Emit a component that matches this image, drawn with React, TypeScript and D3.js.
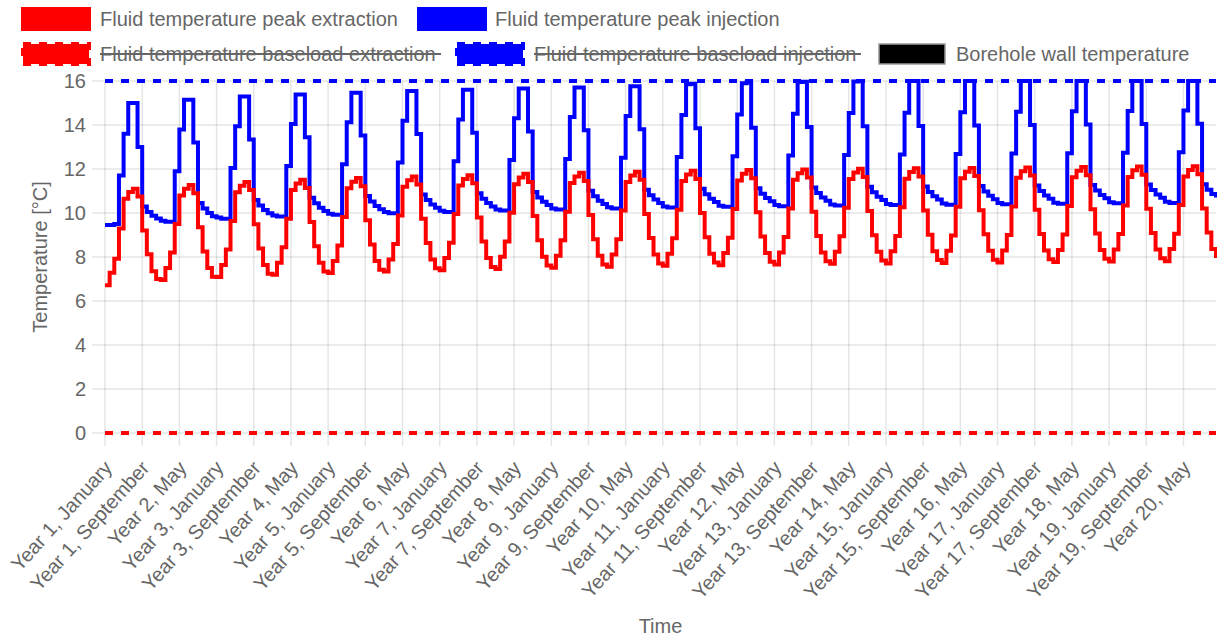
import React from 'react';
import * as d3 from 'd3';

// x labels: 20 years x 12 months
const MONTHS = ['January', 'February', 'March', 'April', 'May', 'June', 'July', 'August', 'September', 'October', 'November', 'December'];
const YEARS = d3.range(1, 21);
const TIME_LABELS = YEARS.flatMap(y => MONTHS.map(m => `Year ${y}, ${m}`));

const Y_TICKS = [0, 2, 4, 6, 8, 10, 12, 14, 16];

// monthly values, one row per year
const EXTRACTION_PEAK = [
  6.72, 7.28, 7.92, 9.30, 10.65, 10.95, 11.10, 10.75, 9.20, 8.12, 7.35, 7.00,
  6.95, 7.50, 8.20, 9.50, 10.80, 11.10, 11.27, 10.90, 9.35, 8.25, 7.50, 7.10,
  7.09, 7.64, 8.34, 9.64, 10.94, 11.24, 11.41, 11.04, 9.49, 8.39, 7.64, 7.24,
  7.19, 7.74, 8.44, 9.74, 11.04, 11.34, 11.51, 11.14, 9.59, 8.49, 7.74, 7.34,
  7.27, 7.82, 8.52, 9.82, 11.12, 11.42, 11.59, 11.22, 9.67, 8.57, 7.82, 7.42,
  7.34, 7.89, 8.59, 9.89, 11.19, 11.49, 11.66, 11.29, 9.74, 8.64, 7.89, 7.49,
  7.40, 7.95, 8.65, 9.95, 11.25, 11.55, 11.72, 11.35, 9.80, 8.70, 7.95, 7.55,
  7.46, 8.01, 8.71, 10.01, 11.31, 11.61, 11.78, 11.41, 9.86, 8.76, 8.01, 7.61,
  7.51, 8.06, 8.76, 10.06, 11.36, 11.66, 11.83, 11.46, 9.91, 8.81, 8.06, 7.66,
  7.56, 8.11, 8.81, 10.11, 11.41, 11.71, 11.88, 11.51, 9.96, 8.86, 8.11, 7.71,
  7.60, 8.15, 8.85, 10.15, 11.45, 11.75, 11.92, 11.55, 10.00, 8.90, 8.15, 7.75,
  7.63, 8.18, 8.88, 10.18, 11.48, 11.78, 11.95, 11.58, 10.03, 8.93, 8.18, 7.78,
  7.66, 8.21, 8.91, 10.21, 11.51, 11.81, 11.98, 11.61, 10.06, 8.96, 8.21, 7.81,
  7.69, 8.24, 8.94, 10.24, 11.54, 11.84, 12.01, 11.64, 10.09, 8.99, 8.24, 7.84,
  7.71, 8.26, 8.96, 10.26, 11.56, 11.86, 12.03, 11.66, 10.11, 9.01, 8.26, 7.86,
  7.73, 8.28, 8.98, 10.28, 11.58, 11.88, 12.05, 11.68, 10.13, 9.03, 8.28, 7.88,
  7.75, 8.30, 9.00, 10.30, 11.60, 11.90, 12.07, 11.70, 10.15, 9.05, 8.30, 7.90,
  7.77, 8.32, 9.02, 10.32, 11.62, 11.92, 12.09, 11.72, 10.17, 9.07, 8.32, 7.92,
  7.79, 8.34, 9.04, 10.34, 11.64, 11.94, 12.11, 11.74, 10.19, 9.09, 8.34, 7.94,
  7.81, 8.36, 9.06, 10.36, 11.66, 11.96, 12.13, 11.76, 10.21, 9.11, 8.36, 7.96,
];

const INJECTION_PEAK = [
  9.45, 9.45, 9.50, 11.70, 13.60, 15.00, 15.00, 13.00, 10.30, 10.05, 9.88, 9.75,
  9.65, 9.60, 9.60, 11.90, 13.80, 15.15, 15.15, 13.20, 10.45, 10.20, 10.00, 9.85,
  9.79, 9.74, 9.74, 12.04, 13.94, 15.29, 15.29, 13.34, 10.59, 10.34, 10.14, 9.99,
  9.89, 9.84, 9.84, 12.14, 14.04, 15.39, 15.39, 13.44, 10.69, 10.44, 10.24, 10.09,
  9.97, 9.92, 9.92, 12.22, 14.12, 15.47, 15.47, 13.52, 10.77, 10.52, 10.32, 10.17,
  10.04, 9.99, 9.99, 12.29, 14.19, 15.54, 15.54, 13.59, 10.84, 10.59, 10.39, 10.24,
  10.10, 10.05, 10.05, 12.35, 14.25, 15.60, 15.60, 13.65, 10.90, 10.65, 10.45, 10.30,
  10.16, 10.11, 10.11, 12.41, 14.31, 15.66, 15.66, 13.71, 10.96, 10.71, 10.51, 10.36,
  10.21, 10.16, 10.16, 12.46, 14.36, 15.71, 15.71, 13.76, 11.01, 10.76, 10.56, 10.41,
  10.26, 10.21, 10.21, 12.51, 14.41, 15.76, 15.76, 13.81, 11.06, 10.81, 10.61, 10.46,
  10.30, 10.25, 10.25, 12.55, 14.45, 15.85, 15.88, 13.85, 11.10, 10.85, 10.65, 10.50,
  10.33, 10.28, 10.28, 12.58, 14.48, 15.90, 15.93, 13.88, 11.13, 10.88, 10.68, 10.53,
  10.36, 10.31, 10.31, 12.61, 14.51, 15.95, 15.97, 13.91, 11.16, 10.91, 10.71, 10.56,
  10.39, 10.34, 10.34, 12.64, 14.54, 15.98, 16.00, 13.94, 11.19, 10.94, 10.74, 10.59,
  10.41, 10.36, 10.36, 12.66, 14.56, 16.00, 16.00, 13.96, 11.21, 10.96, 10.76, 10.61,
  10.43, 10.38, 10.38, 12.68, 14.58, 16.00, 16.00, 13.98, 11.23, 10.98, 10.78, 10.63,
  10.45, 10.40, 10.40, 12.70, 14.60, 16.00, 16.00, 14.00, 11.25, 11.00, 10.80, 10.65,
  10.47, 10.42, 10.42, 12.72, 14.62, 16.00, 16.00, 14.02, 11.27, 11.02, 10.82, 10.67,
  10.49, 10.44, 10.44, 12.74, 14.64, 16.00, 16.00, 14.04, 11.29, 11.04, 10.84, 10.69,
  10.51, 10.46, 10.46, 12.76, 14.66, 16.00, 16.00, 14.06, 11.31, 11.06, 10.86, 10.71,
];

// baseload limits (flat lines)
const BASELOAD_EXTRACTION = 0;
const BASELOAD_INJECTION = 16;

const LEGEND_ITEMS = [
  { label: 'Fluid temperature peak extraction', color: '#ff0000', dashed: false, hidden: false },
  { label: 'Fluid temperature peak injection', color: '#0000ff', dashed: false, hidden: false },
  { label: 'Fluid temperature baseload extraction', color: '#ff0000', dashed: true, hidden: true },
  { label: 'Fluid temperature baseload injection', color: '#0000ff', dashed: true, hidden: true },
  { label: 'Borehole wall temperature', color: '#000000', dashed: false, hidden: false },
];

const W = 1217;
const H = 637;
const FONT = "'Liberation Sans', Arial, Helvetica, sans-serif";
const GREY = '#666';

const App: React.FC = () => {
  const margin = { top: 81, right: 1, bottom: 204, left: 105 };

  const x = d3.scalePoint<string>()
    .domain(TIME_LABELS)
    .range([margin.left, W - margin.right]);

  const y = d3.scaleLinear()
    .domain([0, 16])
    .range([H - margin.bottom, margin.top]);

  const line = d3.line<number>()
    .x((d, i) => x(TIME_LABELS[i]) as number)
    .y(d => y(d))
    .curve(d3.curveStepAfter);

  const xTicks = TIME_LABELS.filter((_, i) => i % 8 === 0);
  const x0 = x(TIME_LABELS[0]) as number;
  const x1 = x(TIME_LABELS[TIME_LABELS.length - 1]) as number;
  const bottom = y(0);

  // legend layout: two rows, left aligned
  const legendPos = [
    { bx: 23, tx: 100, row: 0 },
    { bx: 419, tx: 495, row: 0 },
    { bx: 23, tx: 100, row: 1 },
    { bx: 457, tx: 534, row: 1 },
    { bx: 879, tx: 956, row: 1 },
  ];
  const legendTextW = [303, 290, 341, 327, 235];

  return (
    <svg width={W} height={H} style={{ position: 'absolute', left: 0, top: 0, background: '#fff' }}
      fontFamily={FONT}>
      {/* legend */}
      {LEGEND_ITEMS.map((item, i) => {
        const p = legendPos[i];
        const cy = 19 + p.row * 35;
        return (
          <g key={item.label}>
            <rect x={p.bx} y={cy - 10} width={66} height={20} fill={item.color}
              stroke={item.color === '#000000' ? '#999' : item.color}
              strokeWidth={item.color === '#000000' ? 1.5 : 4}
              strokeDasharray={item.dashed ? '8 8' : undefined} />
            <text x={p.tx} y={cy} dy="0.35em" fontSize={20} fill={GREY}>{item.label}</text>
            {item.hidden && (
              <line x1={p.tx} x2={p.tx + legendTextW[i]} y1={cy} y2={cy} stroke={GREY} strokeWidth={2} />
            )}
          </g>
        );
      })}

      {/* horizontal grid + y ticks */}
      {Y_TICKS.map(t => (
        <g key={t}>
          <line x1={x0 - 13} x2={x1} y1={y(t)} y2={y(t)} stroke="rgba(0,0,0,0.1)" strokeWidth={1.5} />
          <text x={86} y={y(t)} dy="0.35em" textAnchor="end" fontSize={20} fill={GREY}>{t}</text>
        </g>
      ))}

      {/* vertical grid + x ticks */}
      {xTicks.map(l => {
        const px = x(l) as number;
        return (
          <g key={l}>
            <line x1={px} x2={px} y1={margin.top} y2={bottom + 13} stroke="rgba(0,0,0,0.1)" strokeWidth={1.5} />
            <text transform={`translate(${px + 3},${bottom + 31}) rotate(-48)`} textAnchor="end" dy="0.35em"
              fontSize={20} fill={GREY}>{l}</text>
          </g>
        );
      })}

      {/* axis titles */}
      <text transform={`translate(40,${(margin.top + bottom) / 2}) rotate(-90)`} textAnchor="middle" dy="0.35em"
        fontSize={20} fill={GREY}>Temperature [°C]</text>
      <text x={(x0 + x1) / 2} y={626} dy="0.35em" textAnchor="middle" fontSize={20} fill={GREY}>Time</text>

      {/* series */}
      <line x1={x0} x2={x1} y1={y(BASELOAD_INJECTION)} y2={y(BASELOAD_INJECTION)}
        stroke="#0000ff" strokeWidth={4} strokeDasharray="8 8" />
      <path d={line(INJECTION_PEAK) ?? ''} fill="none" stroke="#0000ff" strokeWidth={4} />
      <path d={line(EXTRACTION_PEAK) ?? ''} fill="none" stroke="#ff0000" strokeWidth={4} />
      <line x1={x0} x2={x1} y1={y(BASELOAD_EXTRACTION)} y2={y(BASELOAD_EXTRACTION)}
        stroke="#ff0000" strokeWidth={4} strokeDasharray="8 8" />
    </svg>
  );
};

export default App;
